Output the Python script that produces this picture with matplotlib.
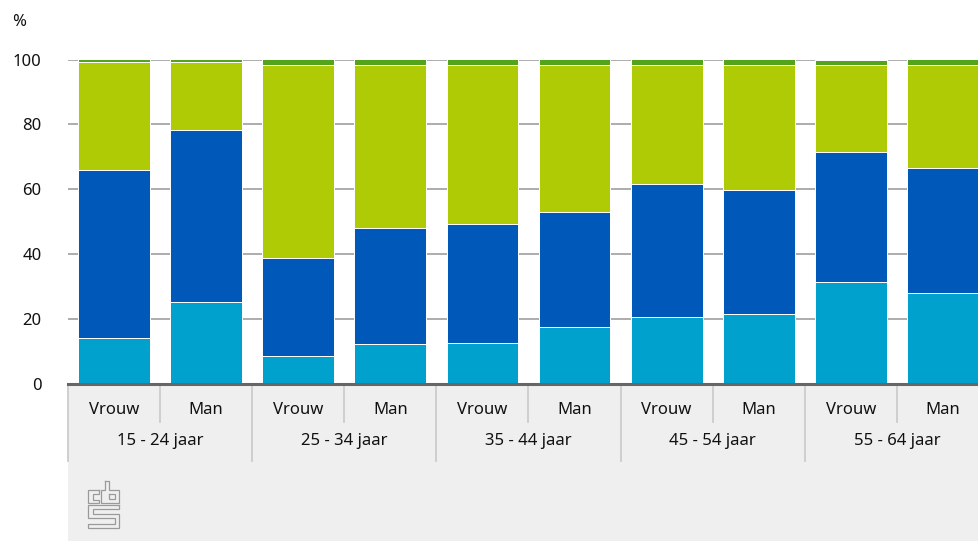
import matplotlib
matplotlib.use("Agg")
import matplotlib.pyplot as plt
import numpy as np
from matplotlib.transforms import blended_transform_factory
from matplotlib.patches import Rectangle

# ---- data ----
groups = ["15 - 24 jaar", "25 - 34 jaar", "35 - 44 jaar", "45 - 54 jaar", "55 - 64 jaar"]
sexes = ["Vrouw", "Man"]
series_light_blue = [14.3, 25.3, 8.7, 12.4, 12.7, 17.6, 20.6, 21.7, 31.5, 27.9]
series_dark_blue = [51.6, 53.0, 30.2, 35.8, 36.5, 35.3, 41.1, 38.0, 40.1, 38.6]
series_yellow_green = [33.2, 20.8, 59.5, 50.2, 49.2, 45.5, 36.7, 38.7, 26.8, 31.9]
series_green = [0.9, 0.9, 1.6, 1.6, 1.6, 1.6, 1.6, 1.6, 1.6, 1.6]
yticks = [0, 20, 40, 60, 80, 100]

colors = ["#00A1CD", "#0058B8", "#AFCB05", "#53A31D"]

W, H = 979, 541
plt.rcParams['font.family'] = ['Noto Sans', 'DejaVu Sans']
fig = plt.figure(figsize=(W / 100, H / 100), dpi=100)

def fy(p):
    return 1 - p / H

y0, y100 = 384, 59.5
left = 68
catw = 92.1
ax = fig.add_axes([left / W, fy(y0), 10 * catw / W, (y0 - y100) / H])
ax.set_zorder(2)
ax.patch.set_visible(False)

# grey bottom panel
fig.patches.append(Rectangle((left / W, 0), 1 - left / W, fy(385), transform=fig.transFigure,
                             facecolor="#EFEFEF", edgecolor="none", zorder=-10))

x = np.arange(10)
bottom = np.zeros(10)
for vals, c in zip([series_light_blue, series_dark_blue, series_yellow_green, series_green], colors):
    ax.bar(x, vals, bottom=bottom, width=0.78, color=c, edgecolor="white", linewidth=0.7, zorder=3)
    bottom += np.array(vals)

ax.set_xlim(-0.5, 9.5)
ax.set_ylim(0, 100)
ax.set_yticks(yticks)
ax.set_yticklabels([str(t) for t in yticks], fontsize=12, color="#111111")
ax.tick_params(axis='y', length=0, pad=19)
ax.set_xticks([])
ax.grid(axis='y', color="#A6A6A6", linewidth=1.3, zorder=0)
ax.set_axisbelow(True)
for s in ["top", "right", "left"]:
    ax.spines[s].set_visible(False)
ax.spines["bottom"].set_color("#666666")
ax.spines["bottom"].set_linewidth(2.2)
ax.spines["bottom"].set_zorder(5)

fig.text(12 / W, fy(22), "%", fontsize=12, va="center", ha="left", color="#111111")

tr = blended_transform_factory(ax.transData, fig.transFigure)
for i in range(10):
    ax.text(i, fy(410), sexes[i % 2], transform=tr, ha="center", va="center", fontsize=12,
            color="#111111", clip_on=False)
for g in range(5):
    ax.text(2 * g + 0.5, fy(441), groups[g], transform=tr, ha="center", va="center", fontsize=12,
            color="#111111", clip_on=False)
# dividers
for g in range(5):
    ax.plot([2 * g + 0.5, 2 * g + 0.5], [fy(386), fy(422)], transform=tr, color="#CCCCCC", lw=1.3, clip_on=False)
for g in range(6):
    ax.plot([2 * g - 0.5, 2 * g - 0.5], [fy(386), fy(461)], transform=tr, color="#CCCCCC", lw=1.3, clip_on=False)

# cbs logo (approximation)
def pl(pts):
    xs = [p[0] for p in pts] + [pts[0][0]]
    ys = [p[1] for p in pts] + [pts[0][1]]
    fig.add_artist(plt.Line2D([v / W for v in xs], [fy(v) for v in ys], transform=fig.transFigure,
                              color="#9A9A9A", lw=0.9, solid_joinstyle="miter"))
# 'c'
pl([(99, 490), (88.5, 490), (88.5, 503), (99, 503), (99, 499.5), (92.5, 499.5), (92.5, 494), (99, 494)])
# 'b'
pl([(104.7, 480.5), (109, 480.5), (109, 490), (119, 490), (119, 503), (100.7, 503), (100.7, 490), (104.7, 490)])
pl([(109, 493.5), (114.7, 493.5), (114.7, 499), (109, 499)])
# 'S'
pl([(119, 505), (88.5, 505), (88.5, 517.5), (114.7, 517.5), (114.7, 523.5), (88.5, 523.5), (88.5, 527.5),
    (119, 527.5), (119, 513.5), (92.7, 513.5), (92.7, 509), (119, 509)])

fig.savefig("out.png", dpi=100)
